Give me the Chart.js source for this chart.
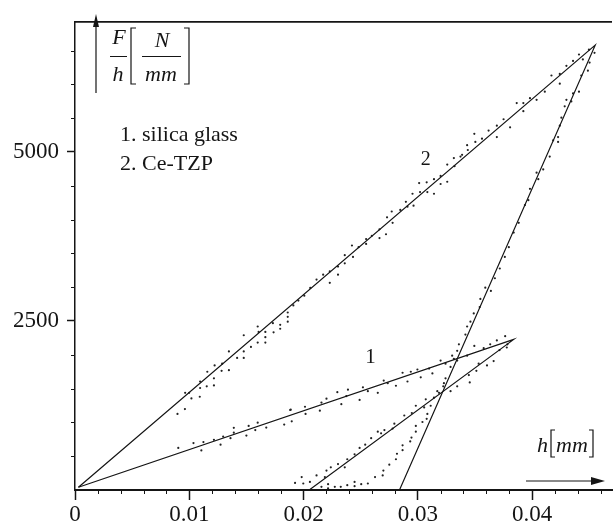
<html lang="en">

<head>
    <meta charset="UTF-8">
    <title>F/h - h</title>
    <script src="https://cdn.jsdelivr.net/npm/chart.js"></script>
    <style>
        body {
            margin: 0;
            background: #fff;
        }

        #grafico {
            display: block;
        }
    </style>
</head>

<body>
    <canvas id="grafico" width="616" height="529"></canvas>
</body>

</html>

<script>
    // tick labels
    const xTicks = [0, 0.01, 0.02, 0.03, 0.04];
    const yTicks = [2500, 5000];

    // fitted lines: loading up to the peak, then unloading
    const glassFitH = [0.0003, 0.0384, 0.0205];
    const glassFitF = [40, 2227, 0];
    const tzpFitH = [0.0003, 0.04553, 0.0284];
    const tzpFitF = [40, 6580, 0];

    // measured points [h, F/h]
    const glassLoadDots = [
        [0.00904, 622], [0.01037, 694], [0.01106, 585], [0.01124, 709], [0.01216, 742],
        [0.01274, 671], [0.01297, 790], [0.01361, 766], [0.0139, 920], [0.0139, 848],
        [0.015, 805], [0.0152, 948], [0.01578, 886], [0.01599, 996], [0.01674, 924],
        [0.01831, 967], [0.01888, 1188], [0.01897, 1016], [0.01883, 1183], [0.02013, 1231],
        [0.02018, 1125], [0.02143, 1174], [0.02157, 1293], [0.02201, 1351], [0.02296, 1447],
        [0.02331, 1269], [0.02375, 1389], [0.02389, 1484], [0.02491, 1332], [0.0252, 1519],
        [0.02563, 1461], [0.0265, 1437], [0.02702, 1619], [0.02737, 1580], [0.02809, 1542],
        [0.02867, 1734], [0.0291, 1605], [0.02939, 1749], [0.02997, 1782], [0.03026, 1667],
        [0.03099, 1796], [0.03128, 1724], [0.032, 1915], [0.03243, 1868], [0.03301, 1987],
        [0.03345, 1915], [0.03432, 1987], [0.03495, 2131], [0.03577, 2098], [0.03634, 2155],
        [0.03692, 2213], [0.03765, 2275], [0.03785, 2155]
    ];
    const glassUnloadDots = [
        [0.03779, 2108], [0.03716, 2069], [0.03664, 1907], [0.03606, 1843], [0.03533, 1868],
        [0.03513, 1763], [0.03455, 1591], [0.03447, 1700], [0.03345, 1533], [0.03287, 1461],
        [0.03229, 1580], [0.03142, 1365], [0.0307, 1341], [0.03056, 1221], [0.02983, 1246],
        [0.02948, 1139], [0.02882, 1102], [0.02795, 981], [0.0278, 909], [0.02708, 886],
        [0.02679, 838], [0.0265, 862], [0.02592, 766], [0.0254, 671], [0.02491, 622],
        [0.02447, 527], [0.02383, 455], [0.02361, 335], [0.02302, 384], [0.02239, 335],
        [0.02201, 287], [0.02187, 191], [0.02114, 216], [0.02056, 119], [0.01998, 96],
        [0.01984, 191], [0.01926, 105],
        [0.03113, 1246], [0.03084, 1125], [0.03078, 1053], [0.03041, 1006], [0.02983, 948],
        [0.02983, 862], [0.02945, 776], [0.02934, 718], [0.02867, 661], [0.02867, 589],
        [0.02818, 536], [0.02809, 455], [0.02751, 374], [0.02699, 287], [0.02693, 216],
        [0.02626, 191], [0.02563, 96], [0.02505, 86], [0.02447, 119], [0.02447, 57],
        [0.02383, 72], [0.02326, 47], [0.02274, 47], [0.02215, 86], [0.02215, 24],
        [0.02157, 47], [0.03186, 1437]
    ];
    const tzpLoadDots = [
        [0.00897, 1125], [0.00962, 1197], [0.00964, 1437], [0.00999, 1437], [0.01019, 1355],
        [0.01095, 1605], [0.01095, 1509], [0.01092, 1379], [0.01153, 1533], [0.01158, 1749],
        [0.01216, 1652], [0.01216, 1547], [0.01222, 1843], [0.01283, 1763], [0.01288, 1868],
        [0.01347, 2050], [0.01347, 1772], [0.01419, 1954], [0.01477, 2289], [0.01477, 2050],
        [0.01477, 1954], [0.0154, 2116], [0.01599, 2418], [0.01599, 2180], [0.01607, 2338],
        [0.01666, 2338], [0.01666, 2260], [0.01666, 2180], [0.01732, 2467], [0.01738, 2332],
        [0.01796, 2443], [0.01796, 2385], [0.01862, 2625], [0.01862, 2562], [0.01862, 2490],
        [0.01911, 2730], [0.01955, 2802], [0.02007, 2874], [0.02059, 2989], [0.02114, 3113],
        [0.02172, 3185], [0.0223, 3233], [0.0223, 3065], [0.02302, 3185], [0.02302, 3305],
        [0.02361, 3473], [0.02361, 3352], [0.02424, 3616], [0.02433, 3448], [0.02482, 3592],
        [0.02548, 3711], [0.02548, 3640], [0.02598, 3760], [0.02665, 3855], [0.02665, 3726],
        [0.02722, 3783], [0.02731, 4033], [0.02772, 4119], [0.0278, 3951], [0.02847, 4142],
        [0.02896, 4263], [0.0291, 4191], [0.02954, 4382], [0.02963, 4205], [0.03012, 4540],
        [0.0302, 4407], [0.03078, 4550], [0.03084, 4407], [0.03142, 4598], [0.03142, 4382],
        [0.032, 4645], [0.032, 4526], [0.03258, 4813], [0.03258, 4559], [0.03316, 4909],
        [0.03322, 4789], [0.03374, 4932], [0.03388, 4957], [0.03432, 5100], [0.03438, 5029],
        [0.03495, 5268], [0.03504, 5148], [0.03562, 5197], [0.0362, 5316], [0.03692, 5388],
        [0.03692, 5220], [0.03751, 5484], [0.03808, 5364], [0.03866, 5723], [0.03924, 5723],
        [0.03924, 5603], [0.03982, 5795], [0.0404, 5771], [0.04112, 5891], [0.0417, 6131],
        [0.04243, 6154], [0.04243, 6010], [0.04301, 6274], [0.04359, 6346], [0.04411, 6441],
        [0.04445, 6369], [0.04498, 6513]
    ];
    const tzpUnloadDots = [
        [0.04547, 6466], [0.04504, 6322], [0.04489, 6202], [0.04431, 6131], [0.04411, 5891],
        [0.04359, 5866], [0.04344, 5747], [0.04301, 5771], [0.04286, 5675], [0.04257, 5507],
        [0.04243, 5388], [0.04228, 5220], [0.04185, 5172], [0.04228, 5148], [0.04155, 4932],
        [0.04098, 4741], [0.0404, 4694], [0.04055, 4598], [0.03982, 4454], [0.03968, 4286],
        [0.03938, 4214], [0.03884, 3951], [0.0384, 3807], [0.03797, 3592], [0.03762, 3448],
        [0.03718, 3276], [0.03675, 3132], [0.0364, 2945], [0.03591, 2993], [0.03548, 2826],
        [0.03542, 2706], [0.0349, 2611], [0.03461, 2490], [0.03432, 2418], [0.03417, 2299],
        [0.0336, 2155], [0.03345, 2059], [0.03316, 1940], [0.03287, 1820], [0.03243, 1652],
        [0.03223, 1533], [0.03171, 1461]
    ];

    const serif = '"Liberation Serif", "DejaVu Serif", serif';
    const tinta = '#151515';

    function pontos(lista) {
        return lista.map(p => ({ x: p[0], y: p[1] }));
    }

    function linha(hs, fs) {
        return hs.map((h, i) => ({ x: h, y: fs[i] }));
    }

    function dsPontos(lista) {
        return {
            data: pontos(lista),
            showLine: false,
            pointRadius: 1.1,
            pointBorderWidth: 0,
            pointBackgroundColor: '#222'
        };
    }

    function dsLinha(hs, fs) {
        return {
            data: linha(hs, fs),
            showLine: true,
            borderColor: tinta,
            borderWidth: 1.2,
            pointRadius: 0,
            tension: 0
        };
    }

    // everything that is not a data mark: frame, minor ticks, titles, labels
    const anotacoes = {
        id: 'anotacoes',
        afterDraw(chart) {
            const ctx = chart.ctx;
            const xs = chart.scales.x, ys = chart.scales.y;
            const a = chart.chartArea;
            ctx.save();
            ctx.strokeStyle = tinta;
            ctx.fillStyle = tinta;

            // top frame
            ctx.lineWidth = 1.8;
            ctx.beginPath();
            ctx.moveTo(a.left, a.top);
            ctx.lineTo(a.right, a.top);
            ctx.stroke();

            // minor ticks
            ctx.lineWidth = 1;
            ctx.beginPath();
            for (let i = 1; i * 0.002 < xs.max; i++) {
                if (i % 5 === 0) continue;
                const px = Math.round(xs.getPixelForValue(i * 0.002)) + 0.5;
                ctx.moveTo(px, a.bottom);
                ctx.lineTo(px, a.bottom + 4);
            }
            for (let i = 1; i * 500 < ys.max; i++) {
                if (i % 5 === 0) continue;
                const py = Math.round(ys.getPixelForValue(i * 500)) + 0.5;
                ctx.moveTo(a.left - 4, py);
                ctx.lineTo(a.left, py);
            }
            ctx.stroke();

            // y title: F/h [N/mm] with arrow
            ctx.lineWidth = 1.2;
            ctx.beginPath();
            ctx.moveTo(96, 93);
            ctx.lineTo(96, 24);
            ctx.stroke();
            ctx.beginPath();
            ctx.moveTo(96, 14);
            ctx.lineTo(93, 27);
            ctx.lineTo(99, 27);
            ctx.closePath();
            ctx.fill();

            ctx.font = 'italic 22px ' + serif;
            ctx.textAlign = 'center';
            ctx.textBaseline = 'alphabetic';
            ctx.fillText('F', 119, 44);
            ctx.fillText('h', 118, 81);
            ctx.fillText('N', 162, 47);
            ctx.fillText('mm', 161, 81);
            ctx.beginPath();
            ctx.moveTo(110, 56.5); ctx.lineTo(127, 56.5);
            ctx.moveTo(142, 56.5); ctx.lineTo(181, 56.5);
            // brackets
            ctx.moveTo(136, 28); ctx.lineTo(131, 28); ctx.lineTo(131, 84); ctx.lineTo(136, 84);
            ctx.moveTo(184, 28); ctx.lineTo(189, 28); ctx.lineTo(189, 84); ctx.lineTo(184, 84);
            ctx.stroke();

            // x title: h[mm] with arrow
            ctx.textAlign = 'left';
            ctx.fillText('h', 537, 452);
            ctx.fillText('mm', 556, 452);
            ctx.beginPath();
            ctx.moveTo(555, 430); ctx.lineTo(551, 430); ctx.lineTo(551, 457); ctx.lineTo(555, 457);
            ctx.moveTo(589, 430); ctx.lineTo(593, 430); ctx.lineTo(593, 457); ctx.lineTo(589, 457);
            ctx.moveTo(526, 481); ctx.lineTo(594, 481);
            ctx.stroke();
            ctx.beginPath();
            ctx.moveTo(605, 481);
            ctx.lineTo(591, 477);
            ctx.lineTo(591, 485);
            ctx.closePath();
            ctx.fill();

            // legend text
            ctx.font = '22px ' + serif;
            ctx.fillText('1. silica glass', 120, 141);
            ctx.fillText('2. Ce-TZP', 120, 170);

            // curve numbers
            ctx.textAlign = 'center';
            ctx.textBaseline = 'middle';
            ctx.font = '21px ' + serif;
            ctx.fillText('1', xs.getPixelForValue(0.02587), ys.getPixelForValue(1954));
            ctx.font = '20px ' + serif;
            ctx.fillText('2', xs.getPixelForValue(0.0307), ys.getPixelForValue(4885));
            ctx.restore();
        }
    };

    const grafico = document.getElementById('grafico');

    const valorGrafico = new Chart(grafico, {
        type: 'scatter',
        data: {
            datasets: [
                dsLinha(glassFitH, glassFitF),
                dsLinha(tzpFitH, tzpFitF),
                dsPontos(glassLoadDots),
                dsPontos(glassUnloadDots),
                dsPontos(tzpLoadDots),
                dsPontos(tzpUnloadDots)
            ]
        },
        options: {
            responsive: false,
            animation: false,
            devicePixelRatio: 1,
            layout: {
                padding: { top: 8, right: 0, left: 0, bottom: 0 }
            },
            plugins: {
                legend: { display: false },
                tooltip: { enabled: false }
            },
            scales: {
                x: {
                    type: 'linear',
                    min: 0,
                    max: 0.047,
                    afterBuildTicks: s => { s.ticks = xTicks.map(v => ({ value: v })); },
                    afterFit: s => { s.height = 39; },
                    ticks: {
                        callback: v => v === 0 ? '0' : v.toFixed(2),
                        color: tinta,
                        font: { family: serif, size: 23 },
                        padding: 1,
                        maxRotation: 0
                    },
                    grid: {
                        drawOnChartArea: false,
                        tickLength: 10,
                        tickWidth: 1.5,
                        tickColor: tinta
                    },
                    border: { display: true, color: tinta, width: 2 }
                },
                y: {
                    type: 'linear',
                    min: 0,
                    max: 6925,
                    afterBuildTicks: s => { s.ticks = yTicks.map(v => ({ value: v })); },
                    afterFit: s => { s.width = 75; },
                    ticks: {
                        callback: v => String(v),
                        color: tinta,
                        font: { family: serif, size: 23 },
                        padding: 8
                    },
                    grid: {
                        drawOnChartArea: false,
                        tickLength: 8,
                        tickWidth: 1.5,
                        tickColor: tinta
                    },
                    border: { display: true, color: tinta, width: 1.5 }
                }
            }
        },
        plugins: [anotacoes]
    });
</script>
